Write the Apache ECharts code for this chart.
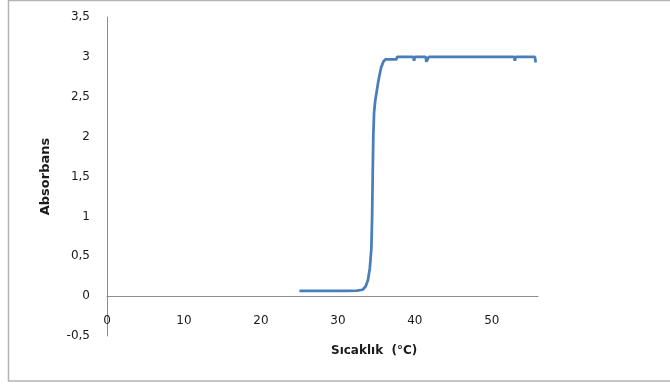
<!DOCTYPE html>
<html>
<head>
<meta charset="utf-8">
<script src="https://cdn.jsdelivr.net/npm/echarts@6/dist/echarts.min.js"></script>
<style>
  html, body { margin: 0; padding: 0; background: #ffffff; }
  #chart { width: 670px; height: 388px; }
</style>
</head>
<body>
<div id="chart"></div>
<script>
// Absorbance versus temperature (°C)
const temperature = [25, 27, 29, 31, 32.5, 33.2, 33.6, 33.9, 34.15, 34.35, 34.45, 34.52, 34.6, 34.7, 34.85,
  35.1, 35.3, 35.6, 35.9, 36.2, 37.6, 37.7, 39.8, 39.9, 40, 41.4, 41.5, 41.7, 41.8,
  45, 50, 52.9, 53, 53.1, 55.6, 55.7];
const absorbance = [0.065, 0.065, 0.065, 0.066, 0.07, 0.08, 0.12, 0.2, 0.35, 0.6, 1.0, 1.5, 2.0, 2.3, 2.45,
  2.6, 2.72, 2.86, 2.94, 2.97, 2.97, 3.0, 3.0, 2.95, 3.0, 3.0, 2.94, 2.94, 3.0,
  3.0, 3.0, 3.0, 2.95, 3.0, 3.0, 2.93];
const xTicks = [0, 10, 20, 30, 40, 50];
const yTicks = [-0.5, 0, 0.5, 1, 1.5, 2, 2.5, 3, 3.5];

const points = temperature.map((t, i) => [t, absorbance[i]]);
const comma = v => String(v).replace('.', ',');

const chart = echarts.init(document.getElementById('chart'), null, { renderer: 'canvas' });
chart.setOption({
  animation: false,
  backgroundColor: '#ffffff',
  textStyle: { fontFamily: 'DejaVu Sans' },
  grid: { left: 107, right: 132, top: 17, bottom: 52 },
  graphic: [
    {
      type: 'rect',
      shape: { x: 8.5, y: 0.5, width: 700, height: 380.5 },
      style: { fill: 'none', stroke: '#b4b4b4', lineWidth: 1.5 },
      silent: true
    },
    {
      type: 'text',
      left: 331, top: 345,
      style: { text: 'Sıcaklık  (°C)', font: 'bold 12px "DejaVu Sans"', fill: '#1a1a1a' }
    }
  ],
  xAxis: {
    type: 'value',
    min: xTicks[0],
    max: 56,
    interval: xTicks[1] - xTicks[0],
    splitLine: { show: false },
    axisTick: { show: false },
    axisLine: { onZero: true, lineStyle: { color: '#8c8c8c', width: 1 } },
    axisLabel: { showMaxLabel: false, inside: true, margin: 9, color: '#1a1a1a', fontSize: 12 }
  },
  yAxis: {
    type: 'value',
    min: yTicks[0],
    max: yTicks[yTicks.length - 1],
    interval: 0.5,
    name: 'Absorbans',
    nameLocation: 'middle',
    nameGap: 55,
    nameTextStyle: { fontWeight: 'bold', fontSize: 13, color: '#1a1a1a' },
    splitLine: { show: false },
    axisTick: { show: false },
    axisLine: { show: true, lineStyle: { color: '#8c8c8c', width: 1 } },
    axisLabel: { margin: 17, color: '#1a1a1a', fontSize: 12, formatter: comma }
  },
  series: [{
    type: 'line',
    data: points,
    showSymbol: false,
    smooth: false,
    lineStyle: { color: '#4a7ebb', width: 2.75 },
    itemStyle: { color: '#4a7ebb' }
  }]
});
</script>
</body>
</html>
